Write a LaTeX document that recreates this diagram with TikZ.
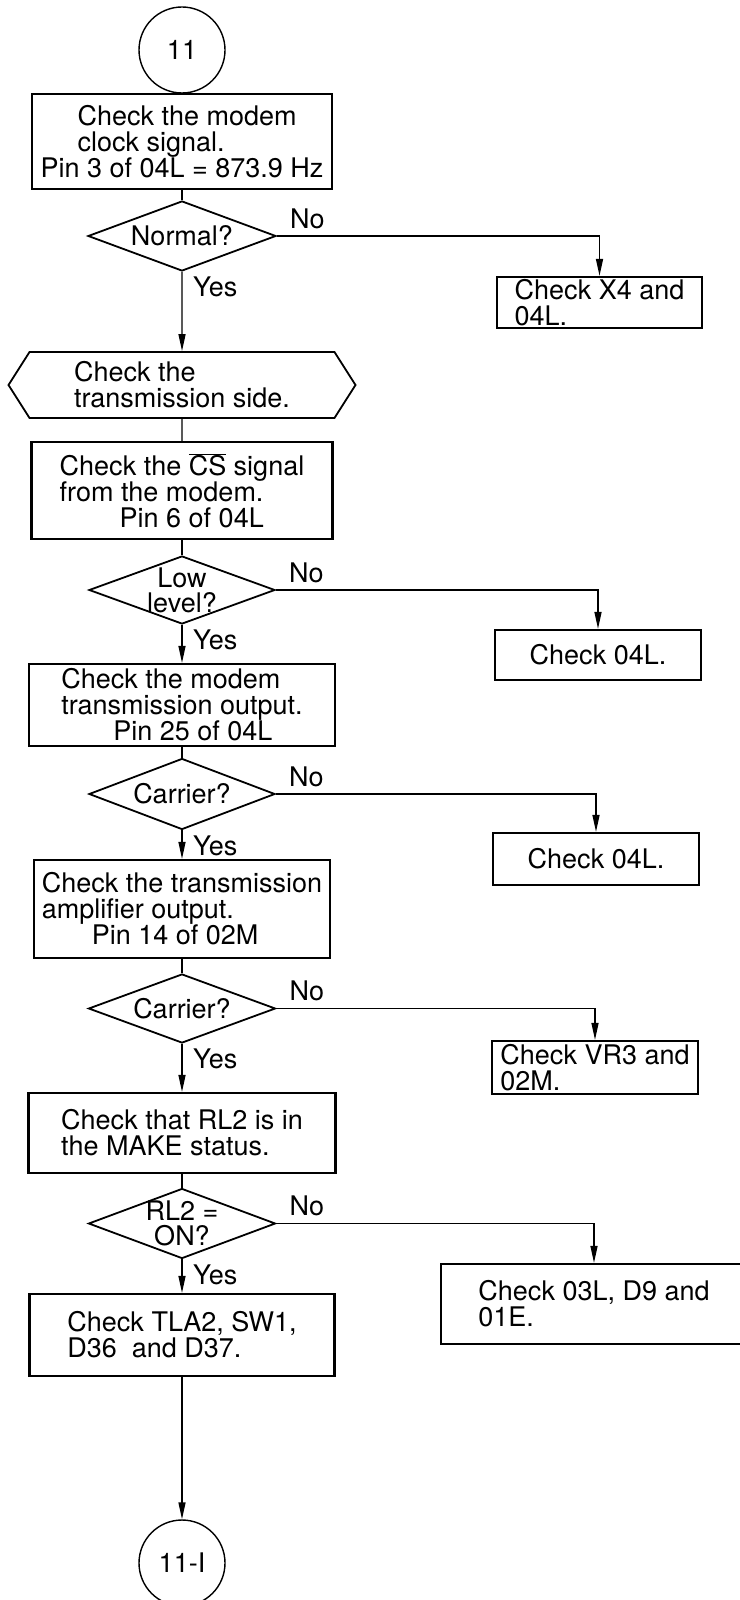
\documentclass[tikz,border=0pt]{standalone}
\usepackage{fontspec}
\setmainfont{TeX Gyre Heros}
\usetikzlibrary{shapes.geometric,shapes.symbols,arrows.meta,positioning}

\begin{document}
\begin{tikzpicture}[x=1pt, y=-1pt,
  every node/.style={font=\fontsize{27}{26}\selectfont},
  proc/.style={draw, line width=2.2pt, rectangle, align=left, inner sep=0pt},
  decision/.style={draw, line width=1.8pt, diamond, inner sep=0pt},
  conn/.style={draw, circle, line width=1.4pt, minimum size=86pt, inner sep=0pt},
  prep/.style={draw, line width=1.8pt, signal, signal to=west and east,
    signal pointer angle=115, align=left, inner sep=0pt},
  qtext/.style={align=center, inner sep=0pt, font=\fontsize{27}{25}\selectfont},
  lbl/.style={inner sep=0pt},
  flow/.style={line width=1.4pt},
  arr/.style={flow, -{Triangle[length=17pt,width=7pt]}}
]
  \useasboundingbox (0,0) rectangle (739,1600);

  % Main column
  \node[conn] (start) at (182,50) {11};
  \node[proc, minimum width=300pt, minimum height=95pt] (clock) at (182,141.5)
    {\hspace*{37pt}Check the modem\\\hspace*{37pt}clock signal.\\Pin 3 of 04L = 873.9 Hz};
  \node[decision, minimum width=188pt, minimum height=70pt] (normal) at (182,236) {};
  \node[qtext] (normalt) at (normal) {Normal?};
  \node[prep, minimum width=347pt, minimum height=66pt] (txside) at (182,385)
    {Check the\\transmission side.};
  \node[proc, minimum width=301pt, minimum height=97pt] (cs) at (182,490.5)
    {Check the \(\overline{\mbox{CS}}\) signal\\from the modem.\\\hspace*{60pt}Pin 6 of 04L};
  \node[decision, minimum width=186pt, minimum height=68pt] (low) at (182,590) {};
  \node[qtext] (lowt) at (low) {Low\\level?};
  \node[proc, minimum width=306pt, minimum height=82pt] (txout) at (182,705)
    {Check the modem\\transmission output.\\\hspace*{52pt}Pin 25 of 04L};
  \node[decision, minimum width=186pt, minimum height=71pt] (carrA) at (182,794) {};
  \node[qtext] (carrAt) at (carrA) {Carrier?};
  \node[proc, minimum width=296pt, minimum height=98pt] (ampout) at (182,909)
    {Check the transmission\\amplifier output.\\\hspace*{50pt}Pin 14 of 02M};
  \node[decision, minimum width=187pt, minimum height=69pt] (carrB) at (182,1008.5) {};
  \node[qtext] (carrBt) at (carrB) {Carrier?};
  \node[proc, minimum width=307pt, minimum height=80pt] (relay) at (182,1133)
    {Check that RL2 is in\\the MAKE status.};
  \node[decision, minimum width=187pt, minimum height=70pt] (rlon) at (182,1223.5) {};
  \node[qtext] (rlont) at (rlon) {RL2 =\\ON?};
  \node[proc, minimum width=305pt, minimum height=82pt] (tla) at (182,1335)
    {Check TLA2, SW1,\\D36\ \ and D37.};
  \node[conn] (next) at (182,1563) {11-I};

  % Right column
  \node[proc, minimum width=205pt, minimum height=51pt] (xtal) at (599.5,302.5)
    {Check X4 and\\04L.};
  \node[proc, minimum width=206pt, minimum height=50pt] (chkA) at (598,655) {Check 04L.};
  \node[proc, minimum width=206pt, minimum height=52pt] (chkB) at (596,859) {Check 04L.};
  \node[proc, minimum width=206pt, minimum height=53pt] (vr) at (595,1067.5)
    {Check VR3 and\\02M.};
  \node[proc, minimum width=306pt, minimum height=80pt] (diode) at (594,1304)
    {Check 03L, D9 and\\01E.};

  % Yes path
  \draw[flow] (start) -- (clock);
  \draw[flow] (clock) -- (normal);
  \draw[arr] (normal) -- (txside);
  \draw[flow] (txside) -- (cs);
  \draw[flow] (cs) -- (low);
  \draw[arr] (low) -- (txout);
  \draw[flow] (txout) -- (carrA);
  \draw[arr] (carrA) -- (ampout);
  \draw[flow] (ampout) -- (carrB);
  \draw[arr] (carrB) -- (relay);
  \draw[flow] (relay) -- (rlon);
  \draw[arr] (rlon) -- (tla);
  \draw[arr] (tla) -- (next);

  % No branches
  \draw[arr] (normal.east) -| (xtal.north);
  \draw[arr] (low.east) -| (chkA.north);
  \draw[arr] (carrA.east) -| (chkB.north);
  \draw[arr] (carrB.east) -| (vr.north);
  \draw[arr] (rlon.east) -| (diode.north);

  % Labels
  \foreach \d in {normal, low, carrA, carrB, rlon} {
    \node[lbl, above right=7pt and 13pt of \d.east] (\d no) {No};
    \node[lbl, below right=5pt and 11pt of \d.south] (\d yes) {Yes};
  }
\end{tikzpicture}
\end{document}
